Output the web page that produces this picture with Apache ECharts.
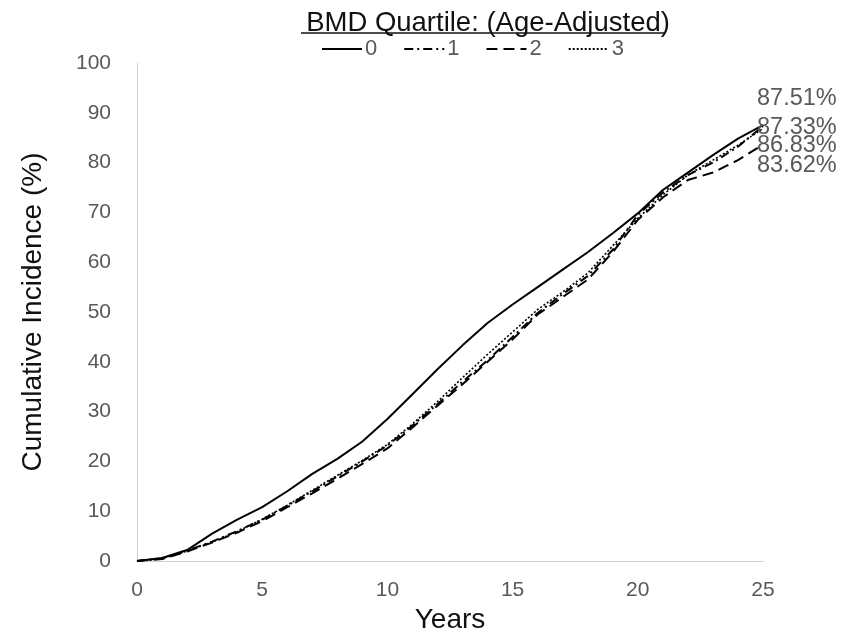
<!DOCTYPE html>
<html>
<head>
<meta charset="utf-8">
<script src="https://cdn.jsdelivr.net/npm/echarts@6/dist/echarts.min.js"></script>
<style>html,body{margin:0;padding:0;background:#fff}#c{width:846px;height:637px}</style>
</head>
<body>
<div id="c"></div>
<script>
const years = [0,1,2,3,4,5,6,7,8,9,10,11,12,13,14,15,16,17,18,19,20,21,22,23,24,25];
const q0 = [0,0.6,2.2,5.5,8.3,10.8,14,17.5,20.5,24,28.5,33.5,38.5,43.3,47.8,51.5,55,58.5,62,65.8,69.8,74.5,78,81.5,84.8,87.51];
const q1 = [0,0.5,2.1,3.9,6,8.3,11.1,14,17,20,23.2,27.2,31.5,36,40.3,45,49.8,53.6,57.2,62.5,69.5,74,77.5,80,83.2,87.33];
const q2 = [0,0.4,1.9,3.7,5.7,8,10.8,13.6,16.5,19.5,22.6,26.8,31.2,35.5,40,44.5,49.5,53,56.5,62,68.5,73,76.5,78,80.5,83.62];
const q3 = [0,0.5,2,3.8,5.9,8.4,11.2,14.2,17.2,20.2,23.4,27.5,32,36.8,41.5,46,50.5,54,57.8,63.3,68.8,73.5,77.5,80.5,83.5,86.83];
const seriesNames = ['0','1','2','3'];
const endLabels = ['87.51%','87.33%','83.62%','86.83%'];
const titleText = 'BMD Quartile: (Age-Adjusted)';

const chart = echarts.init(document.getElementById('c'));
const font = 'Liberation Sans, Arial, sans-serif';
const pairs = arr => years.map((y,i)=>[y,arr[i]]);
const styles = [
  {type:'solid', width:2},
  {type:[9,4,2,4], width:2},
  {type:[11,6], width:2},
  {type:[2,2], width:1.6}
];
const offsets = [[-6,-27],[-6,1],[-6,21],[-6,17]];
const data = [q0,q1,q2,q3];
chart.setOption({
  backgroundColor:'#fff',
  animation:false,
  textStyle:{fontFamily:font},
  title:{text:titleText,left:483,textAlign:'center',top:4,
    textStyle:{fontFamily:font,fontSize:27.5,fontWeight:'normal',color:'#111'}},
  graphic:[{type:'line',shape:{x1:301,y1:33,x2:665,y2:33},style:{stroke:'#111',lineWidth:1.5}}],
  legend:{top:33,left:316,itemWidth:40,itemHeight:14,itemGap:26,
    data:seriesNames,
    itemStyle:{opacity:0},
    textStyle:{fontFamily:font,fontSize:22,color:'#595959',padding:[0,0,0,-2]}},
  grid:{left:137,right:83,top:63,bottom:76,outerBoundsMode:'none'},
  xAxis:{type:'value',min:0,max:25,interval:5,
    name:'Years',nameLocation:'middle',nameGap:44,
    nameTextStyle:{fontFamily:font,fontSize:28,color:'#111'},
    axisLine:{lineStyle:{color:'#d0d0d0',width:1}},
    axisTick:{show:false},splitLine:{show:false},
    axisLabel:{fontFamily:font,fontSize:21,color:'#595959',margin:19}},
  yAxis:{type:'value',min:0,max:100,interval:10,
    name:'Cumulative Incidence (%)',nameLocation:'middle',nameGap:90,
    nameTextStyle:{fontFamily:font,fontSize:28,color:'#111'},
    axisLine:{show:true,lineStyle:{color:'#d0d0d0',width:1}},
    axisTick:{show:false},splitLine:{show:false},
    axisLabel:{fontFamily:font,fontSize:21,color:'#595959',margin:26}},
  series:data.map((d,i)=>({
    name:seriesNames[i],type:'line',data:pairs(d),symbol:'none',smooth:false,
    lineStyle:{color:'#000',type:styles[i].type,width:styles[i].width},
    itemStyle:{color:'#000'},
    endLabel:{show:true,formatter:()=>endLabels[i],distance:0,offset:offsets[i],
      fontFamily:font,fontSize:23.5,color:'#595959'}
  }))
});
</script>
</body>
</html>
